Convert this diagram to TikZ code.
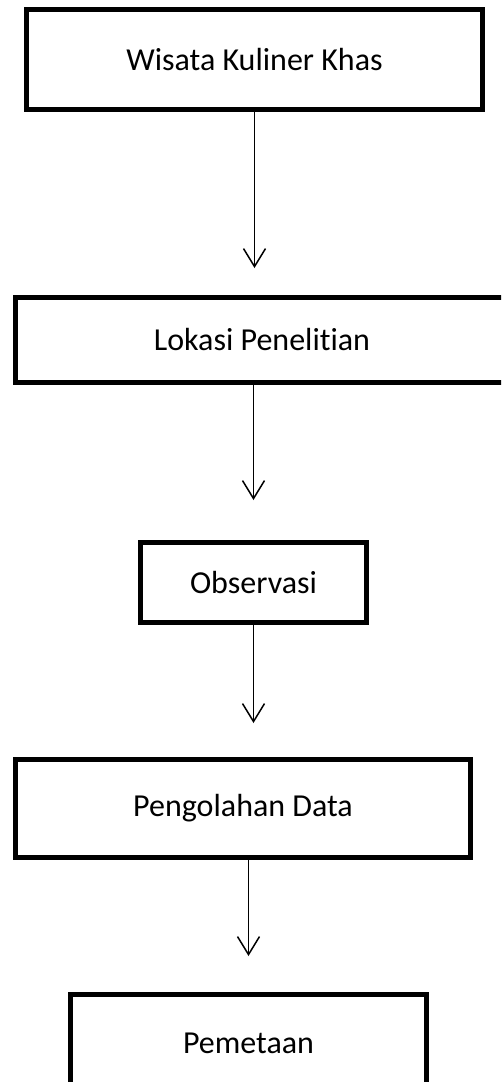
\documentclass[tikz,border=0pt]{standalone}
\usepackage{fontspec}
\setmainfont[Ligatures=CommonOff]{Carlito}
\usetikzlibrary{arrows.meta}

\tikzstyle{kotak} = [draw=black, fill=white, line width=5pt,
    rectangle, inner sep=0pt, font=\fontsize{32}{38}\selectfont]
\tikzstyle{panah} = [draw=black, line width=1.5pt,
    -{Straight Barb[length=18pt, width=22pt, line width=1.5pt]}]

\begin{document}
\begin{tikzpicture}[x=1pt, y=-1pt]
\clip (0,0) rectangle (501,1082);
\fill[white] (0,0) rectangle (501,1082);
\node [kotak, minimum width=456pt, minimum height=100pt] (wisata) at (254.5,59.5) {Wisata Kuliner Khas};
\node [kotak, minimum width=493pt, minimum height=85pt] (lokasi) at (262,340) {Lokasi Penelitian};
\node [kotak, minimum width=226pt, minimum height=80pt] (observasi) at (253.5,582.5) {Observasi};
\node [kotak, minimum width=455pt, minimum height=98pt] (olah) at (243,808.5) {Pengolahan Data};
\node [kotak, minimum width=356pt, minimum height=97pt] (peta) at (248.5,1043) {Pemetaan};
\draw [panah, shorten >=27pt] (wisata.south) -- (wisata.south |- lokasi.north);
\draw [panah, shorten >=40pt] (lokasi.south -| observasi.north) -- (observasi.north);
\draw [panah, shorten >=34pt] (observasi.south) -- (observasi.south |- olah.north);
\draw [panah, shorten >=36pt] (olah.south -| peta.north) -- (peta.north);
\end{tikzpicture}
\end{document}
